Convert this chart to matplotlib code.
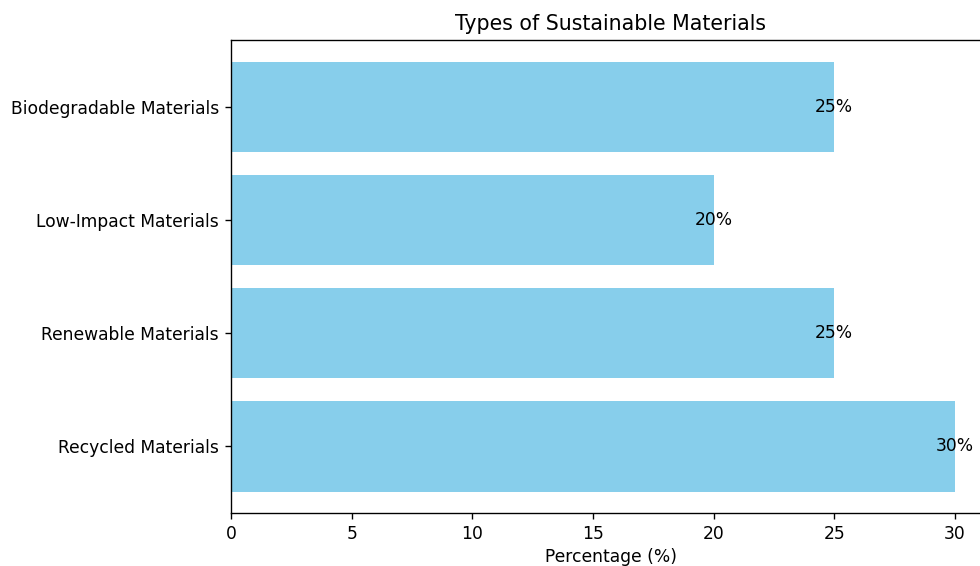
import matplotlib
matplotlib.use("Agg")
import matplotlib.pyplot as plt

materials = ["Recycled Materials", "Renewable Materials", "Low-Impact Materials", "Biodegradable Materials"]
percentages = [30, 25, 20, 25]

DPI = 123
fig = plt.figure(figsize=(980 / DPI, 566 / DPI), dpi=DPI)
ax = fig.add_axes([0.2357, 0.0936, 0.7755, 0.8357])

ax.barh(materials, percentages, color="skyblue")
for i, v in enumerate(percentages):
    ax.text(v, i, f"{v}%", ha="center", va="center", fontsize=10)

ax.set_title("Types of Sustainable Materials", fontsize=12)
ax.set_xlabel("Percentage (%)", labelpad=3)

fig.savefig("out.png", dpi=DPI)
